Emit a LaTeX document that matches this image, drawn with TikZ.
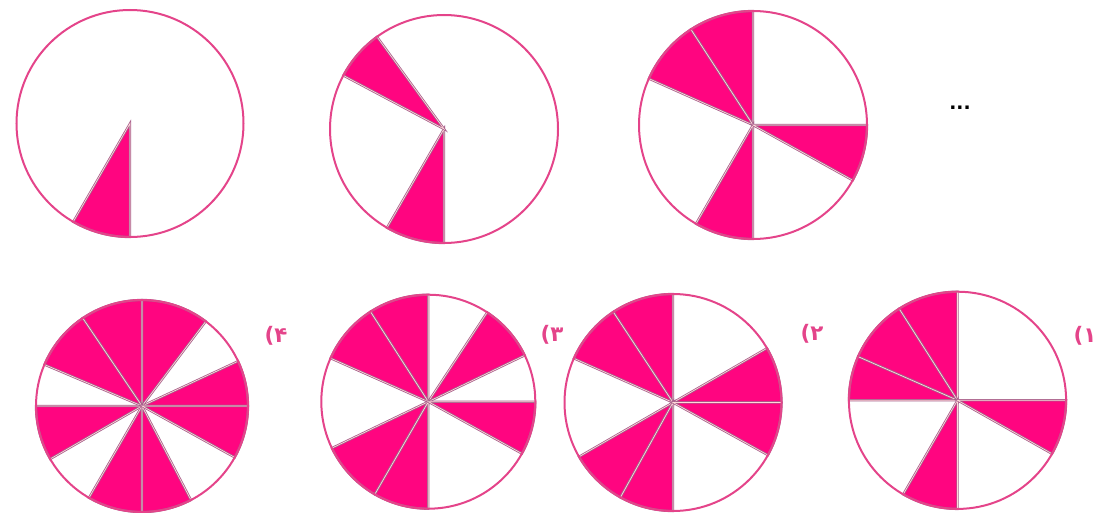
\documentclass[tikz,border=0pt]{standalone}
\usepackage{fontspec}
\newfontfamily\farsifont[Script=Arabic]{DejaVu Sans}
\newfontfamily\dotfont{DejaVu Sans}
\usetikzlibrary{positioning}
\usepackage{xcolor}
\definecolor{ringpink}{HTML}{E4448A}
\definecolor{slicepink}{HTML}{FF0580}
\definecolor{slicegray}{HTML}{A8608C}

\begin{document}
\begin{tikzpicture}[
    x=0.75pt, y=0.75pt,
    ring/.style={draw=ringpink, line width=1.5pt},
    slice/.style={fill=slicepink, draw=slicegray, line width=0.6pt,
        double=pink!60, double distance=0.5pt},
    optlbl/.style={font=\farsifont\bfseries\fontsize{16}{18}\selectfont,
        text=ringpink, inner sep=0pt}
]
\useasboundingbox (0,0) rectangle (1098,512);

% --- Top row: the sequence ---
\coordinate (s1) at (130,388.5);
\foreach \a/\b in {240/270}
    \filldraw[slice] (s1) -- ++(\a:113.5) arc[start angle=\a, end angle=\b, radius=113.5] -- cycle;
\draw[ring] (s1) circle[radius=113.5];

\coordinate (s2) at (444,383);
\foreach \a/\b in {240/270, 126/152}
    \filldraw[slice] (s2) -- ++(\a:114) arc[start angle=\a, end angle=\b, radius=114] -- cycle;
\draw[ring] (s2) circle[radius=114];

\coordinate (s3) at (753,387);
\foreach \a/\b in {90/123, 123/156, 240/270, 331/360}
    \filldraw[slice] (s3) -- ++(\a:114) arc[start angle=\a, end angle=\b, radius=114] -- cycle;
\draw[ring] (s3) circle[radius=114];

\node[font=\dotfont\bfseries\fontsize{14}{16}\selectfont, inner sep=0pt] (dots) at (960,404) {...};

% --- Bottom row: the four options ---
\coordinate (o4) at (142,106);
\foreach \a/\b in {0/25, 53/90, 90/124, 124/157, 180/210, 240/270, 270/297.5, 331/360}
    \filldraw[slice] (o4) -- ++(\a:106) arc[start angle=\a, end angle=\b, radius=106] -- cycle;
\draw[ring] (o4) circle[radius=106];

\coordinate (o3) at (428.3,110.3);
\foreach \a/\b in {25.7/56.6, 90/122.7, 122.7/156, 205.7/240, 240/270, 331/360}
    \filldraw[slice] (o3) -- ++(\a:107) arc[start angle=\a, end angle=\b, radius=107] -- cycle;
\draw[ring] (o3) circle[radius=107];

\coordinate (o2) at (673,109.5);
\foreach \a/\b in {0/30, 90/123.4, 123.4/156, 210/241, 241/270, 331/360}
    \filldraw[slice] (o2) -- ++(\a:108.5) arc[start angle=\a, end angle=\b, radius=108.5] -- cycle;
\draw[ring] (o2) circle[radius=108.5];

\coordinate (o1) at (957.5,111.7);
\foreach \a/\b in {90/122.5, 122.5/156.3, 156.3/180, 240/270, 330.5/360}
    \filldraw[slice] (o1) -- ++(\a:108.6) arc[start angle=\a, end angle=\b, radius=108.6] -- cycle;
\draw[ring] (o1) circle[radius=108.6];

% option labels
\node[optlbl] (l4) at (276,176) {۴)};
\node[optlbl] (l3) at (552,177) {۳)};
\node[optlbl] (l2) at (812,178) {۲)};
\node[optlbl] (l1) at (1085,176) {۱)};

\end{tikzpicture}
\end{document}
